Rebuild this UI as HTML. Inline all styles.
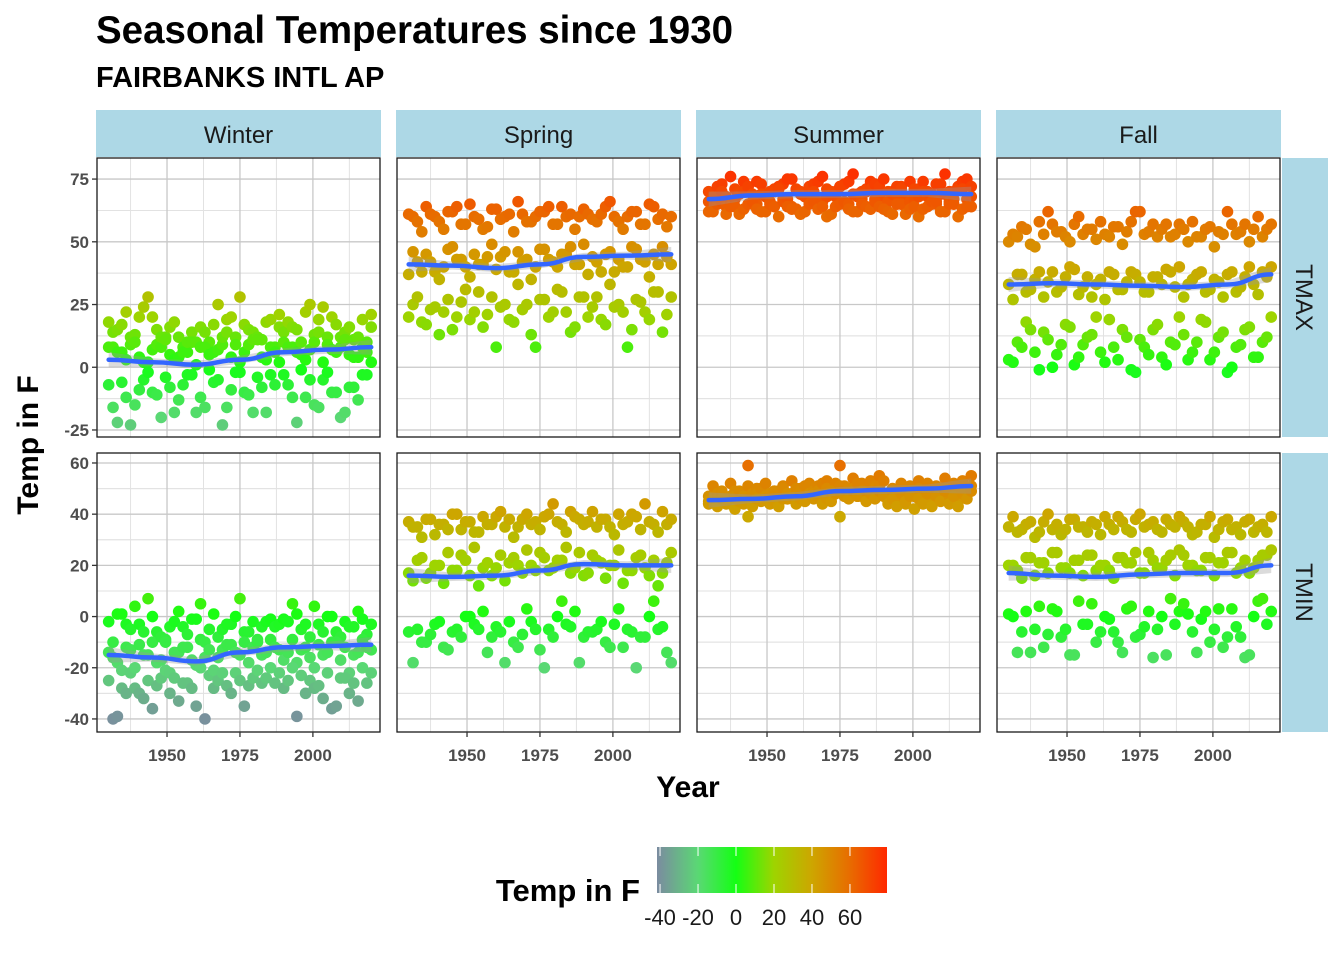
<!DOCTYPE html>
<html><head><meta charset="utf-8"><style>
body{margin:0;background:#fff;}
svg{display:block;font-family:"Liberation Sans",Arial,sans-serif;}
</style></head><body>
<svg id="chart" width="1344" height="960" viewBox="0 0 1344 960">
<defs>
<linearGradient id="lg" x1="0" x2="1" y1="0" y2="0">
<stop offset="0" stop-color="#7b8ba0"/>
<stop offset="0.178" stop-color="#5ad874"/>
<stop offset="0.343" stop-color="#14ff14"/>
<stop offset="0.508" stop-color="#9ed400"/>
<stop offset="0.673" stop-color="#cda600"/>
<stop offset="0.838" stop-color="#e86c00"/>
<stop offset="1" stop-color="#ff2800"/>
</linearGradient>
</defs>
<text x="96" y="43" font-size="38.5" font-weight="bold">Seasonal Temperatures since 1930</text>
<text x="96" y="87" font-size="29" font-weight="bold">FAIRBANKS INTL AP</text>
<g id="panels"></g>
<text x="688" y="797" font-size="30" font-weight="bold" text-anchor="middle">Year</text>
<text transform="translate(38,445) rotate(-90)" font-size="30" font-weight="bold" text-anchor="middle">Temp in F</text>
<g>
<text x="640" y="901" font-size="31" font-weight="bold" text-anchor="end">Temp in F</text>
<rect x="657" y="847" width="230" height="46" fill="url(#lg)"/>
<g id="legticks"></g>
</g>
</svg>
<script>
const years = [];
for (let y = 1930; y <= 2020; y += 3) years.push(y);
const seasons = ["Winter","Spring","Summer","Fall"];
const elements = ["TMAX","TMIN"];
const smoothYears = [1930,1945,1960,1975,1990,2005,2020];
const legendTicks = [-40,-20,0,20,40,60];
const xTicks = [1950,1975,2000];
const yTicksMax = [75,50,25,0,-25];
const yTicksMin = [60,40,20,0,-20,-40];

const winterTmaxA = [18,15,22,13,24,20,8,16,12,6,10,14,17,9,20,28,15,12,18,8,14,16,10,25,19,12,17,14,11,19,21];
const winterTmaxB = [8,6,3,10,2,7,12,5,4,10,1,8,6,12,4,2,9,11,3,6,10,8,5,7,14,9,6,11,4,8,16];
const winterTmaxC = [-7,-22,-12,-15,-5,-10,-20,-8,-13,-3,-18,-16,-6,-23,-9,-2,-11,-4,-18,-7,-3,-12,-1,-5,-16,-2,-10,-18,-8,-3,2];
const winterTminA = [-2,1,-3,4,-6,0,-8,-4,2,-7,-1,-10,1,-5,-3,7,-6,-9,-2,-4,-1,5,-5,-8,-3,0,-6,-2,-4,-1,-3];
const winterTminB = [-14,-18,-12,-20,-15,-10,-17,-22,-14,-12,-19,-16,-21,-13,-11,-15,-18,-10,-14,-12,-17,-9,-13,-16,-11,-14,-10,-12,-15,-9,-13];
const winterTminC = [-25,-39,-30,-28,-32,-36,-24,-30,-33,-26,-35,-40,-28,-22,-30,-25,-27,-21,-24,-26,-28,-20,-23,-25,-27,-22,-35,-24,-26,-20,-22];
const springTmaxA = [61,58,64,60,55,62,57,65,59,56,63,60,54,61,58,62,64,57,60,55,63,59,61,66,58,60,62,57,64,61,60];
const springTmaxB = [37,42,45,38,40,48,43,36,41,44,39,46,38,42,35,47,43,40,45,41,49,44,38,46,43,40,47,42,45,48,41];
const springTmaxC = [20,28,17,24,22,15,26,19,30,21,8,25,18,23,13,27,20,31,22,16,28,24,19,33,25,8,27,22,30,14,28];
const springTminA = [37,35,38,32,36,40,34,37,33,36,39,35,31,38,36,34,40,37,33,39,36,41,38,35,40,37,39,44,36,41,38];
const springTminB = [17,22,15,20,13,18,24,16,12,21,19,14,23,17,20,25,18,22,27,19,16,24,21,20,26,18,23,19,22,17,25];
const springTminC = [-6,-5,-10,-3,-12,-6,-8,0,-5,-14,-4,-18,-10,-7,-2,-13,-5,0,-3,2,-8,-6,-2,-12,3,-5,-20,-8,6,-4,-18];
const summerTmaxA = [70,72,68,71,74,69,73,70,72,75,71,68,73,76,70,72,74,69,71,73,75,70,72,74,71,68,73,77,70,74,72];
const summerTmaxB = [66,68,64,67,70,65,69,66,71,67,63,68,70,66,69,72,65,68,70,67,64,69,71,66,68,70,65,69,67,71,68];
const summerTmaxC = [62,65,61,64,63,66,62,65,60,64,63,62,66,64,61,65,63,62,64,66,63,61,65,63,60,64,66,62,65,63,64];
const summerTminA = [47,48,46,49,47,48,50,47,49,48,50,51,49,52,48,51,50,52,49,51,53,50,52,51,53,52,50,54,52,53,55];
const summerTminB = [45,46,44,47,45,44,46,48,45,46,47,46,48,47,49,59,48,47,49,50,48,49,51,49,50,48,51,50,49,52,51];
const summerTminC = [44,43,45,42,44,43,45,44,43,46,44,45,46,44,45,39,46,47,45,46,47,46,48,47,46,48,47,49,47,48,49];
const fallTmaxA = [50,52,55,48,53,57,54,50,60,55,51,53,56,49,58,62,54,52,57,53,55,58,52,56,54,62,53,57,55,52,57];
const fallTmaxB = [33,37,30,35,28,38,32,40,29,36,33,27,37,31,38,34,30,36,39,32,28,35,38,31,34,37,30,36,33,38,40];
const fallTmaxC = [3,10,18,6,14,0,9,16,4,12,20,2,8,15,-1,11,5,17,1,9,13,6,19,3,12,-2,8,15,4,10,20];
const fallTminA = [35,33,36,31,37,34,32,38,35,33,36,39,34,37,33,40,36,34,38,35,37,32,36,39,34,38,35,37,33,36,39];
const fallTminB = [20,18,23,16,21,25,19,17,22,24,18,20,15,23,21,17,25,19,22,16,24,20,18,23,21,25,17,22,19,24,26];
const fallTminC = [1,-14,2,-5,-12,3,-8,-15,6,-3,-10,0,-6,-14,4,-7,2,-5,-15,-3,5,-6,-1,-10,3,-8,-4,-16,0,7,2];

const winterTmaxTrend = [3,2,1,3,6,7,8];
const winterTminTrend = [-15,-16,-17.5,-14,-12,-11.5,-11];
const springTmaxTrend = [41,40.5,39.5,41,44,44.5,45];
const springTminTrend = [16,15.5,16,18,20.5,20,20];
const summerTmaxTrend = [67,68.5,69,69,69.5,69.5,69];
const summerTminTrend = [45.5,46,47,49,49.5,50,51];
const fallTmaxTrend = [33,33.5,33,32.5,32,33,37];
const fallTminTrend = [17,16,15.5,16.5,17,17,20];

const series = {
 "Winter-TMAX":[winterTmaxA,winterTmaxB,winterTmaxC],"Winter-TMIN":[winterTminA,winterTminB,winterTminC],
 "Spring-TMAX":[springTmaxA,springTmaxB,springTmaxC],"Spring-TMIN":[springTminA,springTminB,springTminC],
 "Summer-TMAX":[summerTmaxA,summerTmaxB,summerTmaxC],"Summer-TMIN":[summerTminA,summerTminB,summerTminC],
 "Fall-TMAX":[fallTmaxA,fallTmaxB,fallTmaxC],"Fall-TMIN":[fallTminA,fallTminB,fallTminC]};
const trends = {
 "Winter-TMAX":winterTmaxTrend,"Winter-TMIN":winterTminTrend,"Spring-TMAX":springTmaxTrend,"Spring-TMIN":springTminTrend,
 "Summer-TMAX":summerTmaxTrend,"Summer-TMIN":summerTminTrend,"Fall-TMAX":fallTmaxTrend,"Fall-TMIN":fallTminTrend};

const NS = "http://www.w3.org/2000/svg";
function mk(tag, attrs, parent){const e=document.createElementNS(NS,tag);for(const k in attrs)e.setAttribute(k,attrs[k]);if(parent)parent.appendChild(e);return e;}

const stops=[[-41.6,[123,139,160]],[-20,[90,216,116]],[0,[20,255,20]],[20,[158,212,0]],[40,[205,166,0]],[60,[232,108,0]],[79.5,[255,40,0]]];
function color(v){
 if(v<=stops[0][0])return `rgb(${stops[0][1]})`;
 for(let i=1;i<stops.length;i++){if(v<=stops[i][0]){const a=stops[i-1],b=stops[i];const t=(v-a[0])/(b[0]-a[0]);
 const c=a[1].map((x,j)=>Math.round(x+(b[1][j]-x)*t));return `rgb(${c})`;}}
 return `rgb(${stops[stops.length-1][1]})`;
}

const panelX=[97,397,697,997], panelW=283;
const rowY=[158,453], panelH=279;
const yDom=[[-27.8,83.4],[-45.1,63.9]];
const xDom=[1926,2023];
const root=document.getElementById('panels');

seasons.forEach((s,ci)=>{
 const strip=mk('g',{},root);
 
 
 mk('rect',{x:panelX[ci]-1,y:110,width:panelW+2,height:47,fill:'#add8e6'},strip);
 const t=mk('text',{x:panelX[ci]+panelW/2,y:143,'font-size':24,'text-anchor':'middle',fill:'#1a1a1a'},strip);t.textContent=s;
});
elements.forEach((el,ri)=>{
 const strip=mk('g',{},root);
 
 
 mk('rect',{x:1282,y:rowY[ri],width:46,height:panelH,fill:'#add8e6'},strip);
 const t=mk('text',{transform:`translate(1296,${rowY[ri]+panelH/2}) rotate(90)`,'font-size':24,'text-anchor':'middle',fill:'#1a1a1a'},strip);t.textContent=el;
});

elements.forEach((el,ri)=>{
 const yTicks = ri===0?yTicksMax:yTicksMin;
 const step = yTicks[0]-yTicks[1];
 seasons.forEach((s,ci)=>{
  const x0=panelX[ci], y0=rowY[ri];
  const sx=v=>x0+(v-xDom[0])/(xDom[1]-xDom[0])*panelW;
  const sy=v=>y0+panelH-(v-yDom[ri][0])/(yDom[ri][1]-yDom[ri][0])*panelH;
  const inY=v=>v>yDom[ri][0]&&v<yDom[ri][1];
  const g=mk('g',{},root);
  
  
  mk('rect',{x:x0,y:y0,width:panelW,height:panelH,fill:'#fff'},g);
  const minorX=[1937.5,1962.5,1987.5,2012.5];
  minorX.forEach(v=>mk('line',{x1:sx(v),x2:sx(v),y1:y0,y2:y0+panelH,stroke:'#e2e2e2','stroke-width':1},g));
  yTicks.forEach(v=>{[v+step/2,v-step/2].forEach(m=>{if(inY(m))mk('line',{x1:x0,x2:x0+panelW,y1:sy(m),y2:sy(m),stroke:'#e2e2e2','stroke-width':1},g);});});
  xTicks.forEach(v=>mk('line',{x1:sx(v),x2:sx(v),y1:y0,y2:y0+panelH,stroke:'#c8c8c8','stroke-width':1.3},g));
  yTicks.forEach(v=>mk('line',{x1:x0,x2:x0+panelW,y1:sy(v),y2:sy(v),stroke:'#c8c8c8','stroke-width':1.3},g));
  const key=s+'-'+el;
  const bands=series[key];
  const n=years.length;
  const order=[];
  years.forEach((yr,i)=>bands.forEach((b)=>{order.push([yr,b[i]]);if(i<n-1)order.push([yr+1.5,b[(i+11)%n]]);}));
  order.forEach(([yr,v])=>{
   const c=mk('circle',{cx:sx(yr),cy:sy(v),r:5.8,fill:color(v)},g);
   
   
  });
  const tr=trends[key];
  const up=smoothYears.map((yr,i)=>[sx(yr),sy(tr[i]+(i===0||i===tr.length-1?3:1.6))]);
  const dn=smoothYears.map((yr,i)=>[sx(yr),sy(tr[i]-(i===0||i===tr.length-1?3:1.6))]).reverse();
  const rib=mk('path',{d:'M'+up.concat(dn).map(p=>p.join(',')).join('L')+'Z',fill:'#999','fill-opacity':0.35},g);
  
  
  const pts=smoothYears.map((yr,i)=>[sx(yr),sy(tr[i])]);
  let d='M'+pts[0].join(',');
  for(let i=1;i<pts.length;i++){const p0=pts[i-1],p1=pts[i];const mx=(p0[0]+p1[0])/2;d+=`C${mx},${p0[1]} ${mx},${p1[1]} ${p1[0]},${p1[1]}`;}
  const ln=mk('path',{d,fill:'none',stroke:'#3366ff','stroke-width':4.5,'stroke-linecap':'round'},g);
  
  
  mk('rect',{x:x0,y:y0,width:panelW,height:panelH,fill:'none',stroke:'#1a1a1a','stroke-width':1.3},g);
  if(ci===0){
   yTicks.forEach(v=>{
    mk('line',{x1:x0-5,x2:x0,y1:sy(v),y2:sy(v),stroke:'#333','stroke-width':1.3},g);
    const t=mk('text',{x:x0-8,y:sy(v)+6,'font-size':17,'font-weight':'bold','text-anchor':'end',fill:'#4d4d4d'},g);
    t.textContent=v;
    
    
   });
  }
  if(ri===1){
   xTicks.forEach(v=>{
    mk('line',{x1:sx(v),x2:sx(v),y1:y0+panelH,y2:y0+panelH+5,stroke:'#333','stroke-width':1.3},g);
    const t=mk('text',{x:sx(v),y:y0+panelH+29,'font-size':17,'font-weight':'bold','text-anchor':'middle',fill:'#4d4d4d'},g);
    t.textContent=v;
    
    
   });
  }
 });
});

const lt=document.getElementById('legticks');
legendTicks.forEach(v=>{
 const x=657+(v+41.6)/(79.5+41.6)*230;
 mk('line',{x1:x,x2:x,y1:847,y2:856,stroke:'#fff','stroke-width':1},lt);
 mk('line',{x1:x,x2:x,y1:884,y2:893,stroke:'#fff','stroke-width':1},lt);
 const t=mk('text',{x:x,y:925,'font-size':22,'text-anchor':'middle',fill:'#1a1a1a'},lt);
 t.textContent=v;
 
 
});
</script>
</body></html>
